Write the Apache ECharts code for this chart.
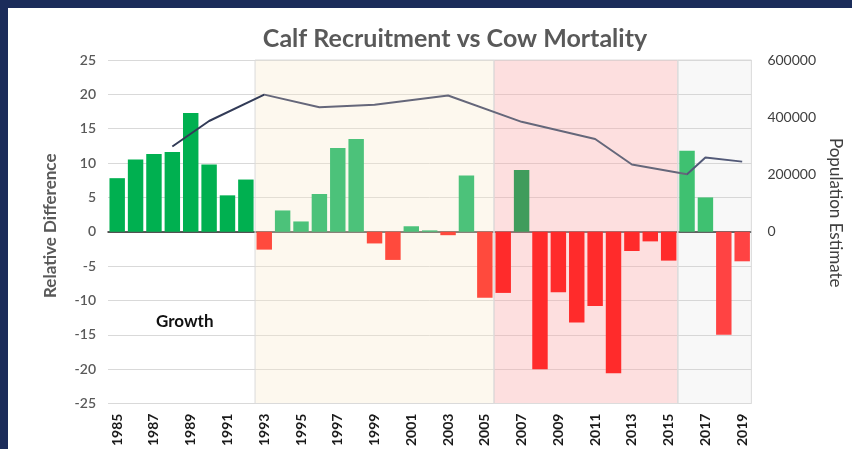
<!DOCTYPE html>
<html>
<head>
<meta charset="utf-8">
<script src="https://cdn.jsdelivr.net/npm/echarts@6/dist/echarts.min.js"></script>
<style>
  html, body { margin: 0; padding: 0; width: 852px; height: 449px; overflow: hidden; background: #fff; }
  #chart { width: 852px; height: 449px; }
</style>
</head>
<body>
<div id="chart"></div>
<script>
// year categories
var years = ["1985","1986","1987","1988","1989","1990","1991","1992","1993","1994",
  "1995","1996","1997","1998","1999","2000","2001","2002","2003","2004",
  "2005","2006","2007","2008","2009","2010","2011","2012","2013","2014",
  "2015","2016","2017","2018","2019"];

// relative difference (calf recruitment vs cow mortality)
var relDiff = [7.8, 10.5, 11.3, 11.6, 17.3, 9.8, 5.3, 7.6, -2.6, 3.1,
  1.5, 5.5, 12.2, 13.5, -1.7, -4.1, 0.8, 0.2, -0.5, 8.2,
  -9.6, -8.9, 9.0, -20.0, -8.8, -13.2, -10.8, -20.6, -2.8, -1.4,
  -4.2, 11.8, 5.0, -15.0, -4.3];

// population estimate (surveys only in some years)
var population = [null, null, null, 298000, null, 387000, null, null, 479000, null,
  null, 435000, null, null, 444000, null, null, null, 476000, null,
  null, null, 384000, null, null, null, 324000, null, 235000, null,
  null, 201000, 259000, null, 245000];

// period index of each year: 0 growth, 1 stable, 2 decline, 3 recent
var period = [0,0,0,0,0,0,0,0,1,1,1,1,1,1,1,1,1,1,1,1,1,2,2,2,2,2,2,2,2,2,2,3,3,3,3];
var posColors = ["#00b050", "#4cc27a", "#3f9c5c", "#3fc171"];
var negColors = ["#00b050", "#ff4a3d", "#ff2b2b", "#ff4343"];

var leftTicks = [-25, 25, 5];
var rightTicks = [-600000, 600000, 200000];

var chart = echarts.init(document.getElementById("chart"));
var font = "Lato";
var navy = "#1b2c5a";

var barData = relDiff.map(function (v, i) {
  return {
    value: v,
    itemStyle: { color: v >= 0 ? posColors[period[i]] : negColors[period[i]] }
  };
});

var option = {
  animation: false,
  backgroundColor: "#fff",
  textStyle: { fontFamily: font },
  title: {
    text: "Calf Recruitment vs Cow Mortality",
    left: 450,
    top: 21,
    textAlign: "center",
    textStyle: { fontFamily: font, fontSize: 25, fontWeight: "bold", color: "#595959" }
  },
  grid: { left: 108, top: 60, right: 91, bottom: 41 },
  // line looks darker outside the tinted bands
  visualMap: {
    show: false,
    seriesIndex: 2,
    dimension: 0,
    pieces: [
      { lt: 7.5, color: "#323b57" },
      { gte: 7.5, lt: 30.5, color: "#65677a" },
      { gte: 30.5, color: "#535a78" }
    ]
  },
  xAxis: [
    {
      type: "category",
      data: years,
      axisTick: { show: false },
      axisLine: { onZero: true, lineStyle: { color: "#262626", width: 1.5 } },
      axisLabel: {
        interval: 1,
        rotate: 90,
        margin: 10,
        fontSize: 14,
        fontWeight: "bold",
        color: "#1a1a1a",
        fontFamily: font
      }
    },
    { type: "value", min: 0, max: 35, show: false }
  ],
  yAxis: [
    {
      type: "value",
      min: leftTicks[0], max: leftTicks[1], interval: leftTicks[2],
      name: "Relative Difference",
      nameLocation: "middle",
      nameGap: 49,
      nameTextStyle: { fontSize: 17, fontWeight: "bold", color: "#595959", fontFamily: font, padding: [0, 0, 0, 12] },
      axisLine: { show: false },
      axisTick: { show: false },
      axisLabel: { fontSize: 14, color: "#595959", margin: 12, fontWeight: 600, fontFamily: font },
      splitLine: { lineStyle: { color: "#d9d9d9", width: 1 } }
    },
    {
      type: "value",
      min: rightTicks[0], max: rightTicks[1], interval: rightTicks[2],
      name: "Population Estimate",
      nameLocation: "middle",
      nameRotate: -90,
      nameGap: 72,
      nameTextStyle: { fontSize: 17, color: "#404040", fontFamily: font, padding: [0, 38, 0, 0] },
      axisLine: { show: false },
      axisTick: { show: false },
      splitLine: { show: false },
      axisLabel: {
        fontSize: 14, color: "#404040", margin: 16, fontFamily: font,
        formatter: function (v) { return v >= 0 ? String(v) : ""; }
      }
    }
  ],
  graphic: [
    // navy frame (top and left edges)
    { type: "rect", left: 0, top: 0, z: 100, shape: { width: 852, height: 8 }, style: { fill: navy } },
    { type: "rect", left: 0, top: 0, z: 100, shape: { width: 8, height: 449 }, style: { fill: navy } },
    {
      type: "text",
      left: 185 - 29,
      top: 323 - 10,
      style: { text: "Growth", fontSize: 17, fontWeight: "bold", fill: "#111", fontFamily: font }
    }
  ],
  series: [
    {
      name: "bands",
      type: "line",
      xAxisIndex: 1,
      yAxisIndex: 0,
      data: [],
      silent: true,
      z: 1,
      markArea: {
        silent: true,
        data: [
          [{ xAxis: 8, itemStyle: { color: "rgba(248,232,202,0.32)", borderColor: "#dadada", borderWidth: 1 } }, { xAxis: 21 }],
          [{ xAxis: 21, itemStyle: { color: "rgba(250,170,170,0.38)", borderColor: "#dcdcdc", borderWidth: 1 } }, { xAxis: 31 }],
          [{ xAxis: 31, itemStyle: { color: "rgba(200,200,200,0.13)", borderColor: "#dadada", borderWidth: 1 } }, { xAxis: 35 }]
        ]
      }
    },
    {
      name: "Relative Difference",
      type: "bar",
      data: barData,
      barCategoryGap: "16%",
      z: 2
    },
    {
      name: "Population Estimate",
      type: "line",
      yAxisIndex: 1,
      data: population,
      connectNulls: true,
      symbol: "none",
      lineStyle: { width: 2 },
      z: 3
    }
  ]
};

chart.setOption(option);
</script>
</body>
</html>
